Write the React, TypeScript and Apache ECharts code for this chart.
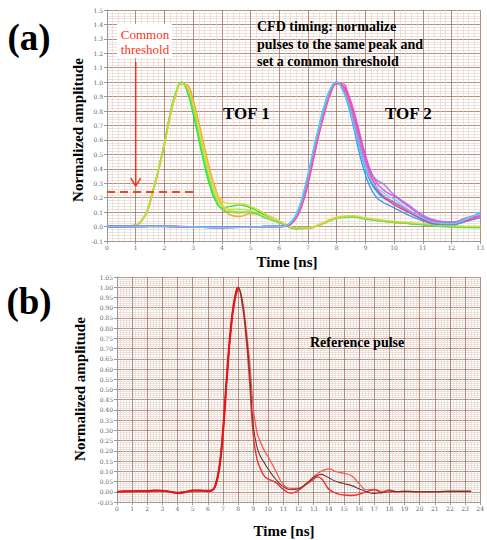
import React, { useEffect, useRef } from "react";
import * as echarts from "echarts";

// ---------- Panel (a) data ----------
const T1 = [0, 0.5, 1, 1.2, 1.4, 1.6, 1.8, 2.0, 2.2, 2.4, 2.6, 2.8, 3.0, 3.2, 3.4, 3.6, 3.8, 4.0, 4.3, 4.6, 5.0, 5.5, 6.0, 6.3, 6.6, 7.0, 7.5, 8.0, 8.5, 9.0, 10, 11, 12, 13];
const tof1A = [0, 0, 0.01, 0.04, 0.11, 0.25, 0.4, 0.58, 0.78, 0.93, 1.0, 0.93, 0.78, 0.6, 0.42, 0.27, 0.17, 0.13, 0.14, 0.15, 0.13, 0.08, 0.03, 0.0, -0.015, -0.012, 0.02, 0.06, 0.07, 0.055, 0.03, 0.015, 0.0, -0.005];
const tof1B = [0, 0, 0.01, 0.04, 0.11, 0.25, 0.4, 0.57, 0.77, 0.92, 0.99, 0.97, 0.86, 0.7, 0.52, 0.36, 0.24, 0.16, 0.1, 0.09, 0.1, 0.07, 0.03, 0.005, -0.01, -0.01, 0.025, 0.065, 0.075, 0.06, 0.035, 0.02, 0.005, 0.0];
const tof1C = [0, 0, 0.01, 0.04, 0.1, 0.24, 0.39, 0.56, 0.76, 0.91, 0.99, 0.98, 0.88, 0.72, 0.55, 0.38, 0.25, 0.15, 0.08, 0.07, 0.09, 0.07, 0.035, 0.01, -0.008, -0.01, 0.02, 0.06, 0.07, 0.055, 0.03, 0.015, 0.0, -0.005];
const tof1D = [0, 0, 0.01, 0.04, 0.11, 0.25, 0.4, 0.58, 0.77, 0.92, 1.0, 0.95, 0.82, 0.65, 0.47, 0.31, 0.2, 0.14, 0.12, 0.12, 0.11, 0.07, 0.03, 0.0, -0.012, -0.01, 0.02, 0.06, 0.07, 0.055, 0.03, 0.015, 0.0, -0.005];
const tof1E = [0, 0, 0.01, 0.04, 0.1, 0.24, 0.39, 0.57, 0.76, 0.92, 1.0, 0.96, 0.84, 0.68, 0.5, 0.34, 0.22, 0.15, 0.11, 0.1, 0.1, 0.07, 0.035, 0.005, -0.01, -0.008, 0.025, 0.065, 0.07, 0.055, 0.03, 0.02, 0.005, -0.002];
const tof1F = [0, 0, 0.01, 0.04, 0.11, 0.25, 0.4, 0.58, 0.78, 0.93, 1.0, 0.94, 0.8, 0.62, 0.44, 0.29, 0.18, 0.12, 0.1, 0.1, 0.1, 0.06, 0.025, 0.0, -0.015, -0.012, 0.018, 0.055, 0.068, 0.05, 0.03, 0.012, -0.005, -0.008];
const tof1G = [0, 0, 0.01, 0.04, 0.11, 0.25, 0.4, 0.57, 0.77, 0.92, 0.99, 0.96, 0.85, 0.69, 0.52, 0.36, 0.24, 0.18, 0.16, 0.16, 0.14, 0.09, 0.04, 0.005, -0.01, -0.01, 0.02, 0.06, 0.075, 0.06, 0.035, 0.02, 0.005, 0.0];

const T2 = [0, 1, 2, 3, 4, 5, 5.5, 6.0, 6.2, 6.4, 6.6, 6.8, 7.0, 7.2, 7.4, 7.6, 7.8, 8.0, 8.2, 8.4, 8.6, 8.8, 9.0, 9.2, 9.4, 9.6, 9.8, 10.0, 10.5, 11, 11.5, 12, 12.5, 13];
const tof2A = [0, 0, 0.002, -0.003, -0.006, -0.004, 0, 0, 0.003, 0.025, 0.08, 0.19, 0.35, 0.53, 0.7, 0.85, 0.96, 1.0, 0.95, 0.84, 0.68, 0.5, 0.36, 0.26, 0.2, 0.17, 0.15, 0.13, 0.08, 0.04, 0.015, 0.012, 0.035, 0.06];
const tof2B = [0, 0.002, 0, -0.004, -0.006, -0.003, 0, 0.001, 0.004, 0.03, 0.09, 0.2, 0.36, 0.54, 0.71, 0.86, 0.96, 1.0, 0.96, 0.86, 0.71, 0.54, 0.4, 0.3, 0.24, 0.2, 0.18, 0.16, 0.1, 0.05, 0.02, 0.015, 0.04, 0.1];
const tof2C = [0, 0, 0.002, -0.002, -0.005, -0.004, 0, 0, 0.002, 0.015, 0.06, 0.15, 0.29, 0.47, 0.65, 0.8, 0.93, 0.99, 0.99, 0.92, 0.8, 0.65, 0.5, 0.38, 0.3, 0.26, 0.23, 0.21, 0.14, 0.07, 0.035, 0.03, 0.05, 0.075];
const tof2D = [0, 0, 0.001, -0.003, -0.006, -0.004, -0.002, 0, 0.002, 0.018, 0.065, 0.16, 0.31, 0.49, 0.66, 0.81, 0.93, 0.99, 0.98, 0.9, 0.77, 0.62, 0.47, 0.35, 0.27, 0.21, 0.18, 0.15, 0.1, 0.05, 0.02, 0.018, 0.04, 0.07];
const tof2E = [0, 0, 0.002, -0.003, -0.005, -0.004, 0, 0, 0.002, 0.02, 0.07, 0.17, 0.32, 0.5, 0.67, 0.82, 0.94, 1.0, 0.97, 0.89, 0.76, 0.61, 0.47, 0.37, 0.32, 0.3, 0.26, 0.22, 0.15, 0.08, 0.04, 0.03, 0.06, 0.09];
const tof2F = [0, 0, 0.002, -0.003, -0.006, -0.004, 0, 0, 0.003, 0.022, 0.075, 0.18, 0.34, 0.52, 0.69, 0.84, 0.95, 1.0, 0.96, 0.86, 0.71, 0.55, 0.41, 0.31, 0.25, 0.21, 0.19, 0.17, 0.11, 0.06, 0.03, 0.02, 0.045, 0.075];
const tof2G = [0, 0, 0.002, -0.002, -0.006, -0.005, -0.001, 0, 0.002, 0.02, 0.07, 0.17, 0.32, 0.5, 0.67, 0.82, 0.94, 1.0, 0.97, 0.88, 0.74, 0.58, 0.44, 0.33, 0.26, 0.22, 0.19, 0.17, 0.11, 0.06, 0.03, 0.022, 0.045, 0.075];
const tof2H = [0, 0, 0.002, -0.003, -0.006, -0.004, 0, 0, 0.003, 0.028, 0.085, 0.2, 0.36, 0.54, 0.7, 0.85, 0.96, 1.0, 0.95, 0.85, 0.7, 0.54, 0.41, 0.32, 0.27, 0.24, 0.21, 0.19, 0.12, 0.06, 0.025, 0.02, 0.05, 0.1];

const threshold = [[0, 0.24], [3.05, 0.24]];
const arrowShaft = [[1, 1.14], [1, 0.285]];
const arrowHead = [[0.83, 0.335], [1, 0.28], [1.17, 0.335]];

// ---------- Panel (b) data ----------
const TB = [0, 0.5, 1, 1.5, 2, 2.5, 3, 3.5, 4, 4.5, 5, 5.5, 6, 6.3, 6.5, 6.75, 7.0, 7.25, 7.5, 7.75, 8.0, 8.25, 8.5, 8.75, 9.0, 9.25, 9.5, 9.75, 10, 10.5, 11, 11.5, 12, 12.5, 13, 13.25, 13.5, 13.75, 14, 14.5, 15, 15.5, 16, 16.5, 17, 17.5, 18, 18.5, 19, 20, 21, 22, 23, 23.4];
const refMid = [0, 0.002, 0.002, 0.003, 0.003, 0.006, 0.005, 0.0, -0.005, -0.002, 0.006, 0.006, 0.004, 0.008, 0.03, 0.11, 0.29, 0.55, 0.78, 0.93, 1.0, 0.94, 0.8, 0.6, 0.33, 0.22, 0.17, 0.14, 0.11, 0.06, 0.025, 0.01, 0.015, 0.04, 0.07, 0.08, 0.085, 0.078, 0.068, 0.05, 0.04, 0.03, 0.015, 0.0, -0.008, -0.004, 0.0, 0.001, 0.002, 0.0, 0.0, 0.002, 0.002, 0.002];
const refUpper = [0, 0.002, 0.002, 0.003, 0.003, 0.006, 0.005, 0.0, -0.005, -0.002, 0.006, 0.006, 0.004, 0.008, 0.03, 0.11, 0.29, 0.55, 0.78, 0.93, 1.0, 0.95, 0.82, 0.65, 0.42, 0.29, 0.24, 0.2, 0.17, 0.1, 0.035, 0.017, 0.018, 0.04, 0.075, 0.088, 0.1, 0.108, 0.112, 0.098, 0.09, 0.078, 0.04, 0.01, 0.012, 0.002, 0.008, 0.0, 0.002, 0.0, 0.0, 0.002, 0.002, 0.002];
const refLower = [0, 0.002, 0.002, 0.003, 0.003, 0.006, 0.005, 0.0, -0.005, -0.002, 0.006, 0.006, 0.004, 0.008, 0.03, 0.11, 0.29, 0.55, 0.78, 0.93, 1.0, 0.93, 0.78, 0.55, 0.28, 0.16, 0.11, 0.075, 0.062, 0.045, 0.012, -0.006, 0.008, 0.036, 0.062, 0.072, 0.065, 0.04, 0.013, -0.008, -0.016, -0.018, -0.012, 0.0, 0.01, -0.004, 0.008, 0.0, 0.002, 0.0, 0.0, 0.002, 0.002, 0.002];

// ---------- Axis ticks ----------
const xTicksA = { min: 0, max: 13, interval: 1 };
const yTicksA = { min: -0.1, max: 1.5, interval: 0.1 };
const xTicksB = { min: 0, max: 24, interval: 1 };
const yTicksB = { min: -0.05, max: 1.05, interval: 0.05 };

const TOF1_SET = [tof1A, tof1B, tof1C, tof1D, tof1E, tof1F, tof1G];
const TOF1_COLORS = ["#22dd22", "#f0e030", "#f5a020", "#a8e838", "#ffc850", "#3ee860", "#d8d838"];
const TOF2_SET = [tof2A, tof2B, tof2C, tof2D, tof2E, tof2F, tof2G, tof2H];
const TOF2_COLORS = ["#2f8ff0", "#20c8f0", "#ee40d8", "#ff3070", "#a070f0", "#4a70e8", "#ff60b0", "#50d8ff"];

const zip = (t: number[], v: number[]) => t.map((x, i) => [x, v[i]]);

const SERIF = "Liberation Serif";
const MAJOR = "#a07262";
const MINOR = "#e4d0c8";

function axisCommon(idx: number, type: "x" | "y", decimals: number) {
  return {
    type: "value",
    gridIndex: idx,
    axisLine: { show: true, onZero: false, lineStyle: { color: "#999", width: 1 } },
    axisTick: { show: true, length: 3, lineStyle: { color: "#999" } },
    axisLabel: {
      fontFamily: "DejaVu Serif",
      fontSize: 6,
      color: "#666",
      margin: type === "x" ? 3 : 4,
      formatter: (v: number) => (decimals ? v.toFixed(decimals) : String(Math.round(v))),
    },
    splitLine: { show: true, lineStyle: { color: MAJOR, width: 0.8 } },
    minorTick: { show: false, splitNumber: 5 },
    minorSplitLine: { show: true, lineStyle: { color: MINOR, width: 0.6 } },
  };
}

function txt(x: number, y: number, text: string, size: number, opts: any = {}) {
  return {
    type: "text",
    x,
    y,
    rotation: opts.rotation || 0,
    z: opts.z || 20,
    style: {
      text,
      fontFamily: SERIF,
      fontSize: size,
      fontWeight: opts.weight || "bold",
      fill: opts.fill || "#000",
      lineHeight: opts.lineHeight,
      textAlign: opts.align || "center",
      textVerticalAlign: opts.valign || "middle",
    },
  };
}

export default function App() {
  const ref = useRef<HTMLDivElement>(null);
  useEffect(() => {
    document.body.style.margin = "0";
    const chart = echarts.init(ref.current!, null, { renderer: "svg" });

    const series: any[] = [];
    TOF1_SET.forEach((arr, i) =>
      series.push({
        type: "line", xAxisIndex: 0, yAxisIndex: 0, data: zip(T1, arr), smooth: 0.5,
        showSymbol: false, lineStyle: { color: TOF1_COLORS[i], width: 1.4, opacity: 0.9 },
      })
    );
    TOF2_SET.forEach((arr, i) =>
      series.push({
        type: "line", xAxisIndex: 0, yAxisIndex: 0, data: zip(T2, arr), smooth: 0.5,
        showSymbol: false, lineStyle: { color: TOF2_COLORS[i], width: 1.4, opacity: 0.9 },
      })
    );
    series.push({
      type: "line", xAxisIndex: 0, yAxisIndex: 0, data: threshold, showSymbol: false,
      lineStyle: { color: "#ff4020", width: 2, type: [8, 5] },
    });
    series.push({
      type: "line", xAxisIndex: 0, yAxisIndex: 0, data: arrowShaft, showSymbol: false,
      lineStyle: { color: "#ee3322", width: 1.5 },
    });
    series.push({
      type: "line", xAxisIndex: 0, yAxisIndex: 0, data: arrowHead, showSymbol: false,
      lineStyle: { color: "#ee3322", width: 1.5 },
    });

    series.push({
      type: "line", xAxisIndex: 1, yAxisIndex: 1, data: zip(TB, refUpper), smooth: 0.5,
      showSymbol: false, lineStyle: { color: "#ff5050", width: 1.2 },
    });
    series.push({
      type: "line", xAxisIndex: 1, yAxisIndex: 1, data: zip(TB, refLower), smooth: 0.5,
      showSymbol: false, lineStyle: { color: "#f03030", width: 1.4 },
    });
    series.push({
      type: "line", xAxisIndex: 1, yAxisIndex: 1, data: zip(TB, refMid), smooth: 0.5,
      showSymbol: false, lineStyle: { color: "#6b3a2e", width: 1.1 },
    });
    series.push({
      type: "line", xAxisIndex: 1, yAxisIndex: 1, data: zip(TB.slice(0, 21), refMid.slice(0, 21)), smooth: 0.5,
      showSymbol: false, lineStyle: { color: "#e01818", width: 2.2 },
    });

    chart.setOption({
      animation: false,
      backgroundColor: "#ffffff",
      grid: [
        { left: 107, top: 10, width: 374, height: 231 },
        { left: 117, top: 277, width: 365, height: 225 },
      ],
      xAxis: [
        { ...axisCommon(0, "x", 0), ...xTicksA },
        { ...axisCommon(1, "x", 0), ...xTicksB },
      ],
      yAxis: [
        { ...axisCommon(0, "y", 1), ...yTicksA },
        { ...axisCommon(1, "y", 2), ...yTicksB },
      ],
      series,
      graphic: [
        txt(29, 37, "(a)", 37),
        txt(29, 301, "(b)", 37),
        txt(78, 130, "Normalized amplitude", 15, { rotation: Math.PI / 2 }),
        txt(80, 389, "Normalized amplitude", 15, { rotation: Math.PI / 2 }),
        txt(287, 262, "Time [ns]", 15),
        txt(284, 531, "Time [ns]", 15),
        txt(257, 18, "CFD timing: normalize\npulses to the same peak and\nset a common threshold", 14, { align: "left", valign: "top", lineHeight: 17.5 }),
        txt(223, 113, "TOF 1", 17, { align: "left" }),
        txt(385, 113, "TOF 2", 17, { align: "left" }),
        txt(310, 342, "Reference pulse", 14, { align: "left" }),
        { type: "rect", shape: { x: 117, y: 24, width: 55, height: 34 }, style: { fill: "#ffffff" }, z: 10 },
        txt(145, 27, "Common\nthreshold", 13, { weight: "normal", fill: "#ff3020", valign: "top", lineHeight: 15, z: 11 }),
      ],
    });
    return () => chart.dispose();
  }, []);
  return <div ref={ref} style={{ width: 487, height: 540 }} />;
}
